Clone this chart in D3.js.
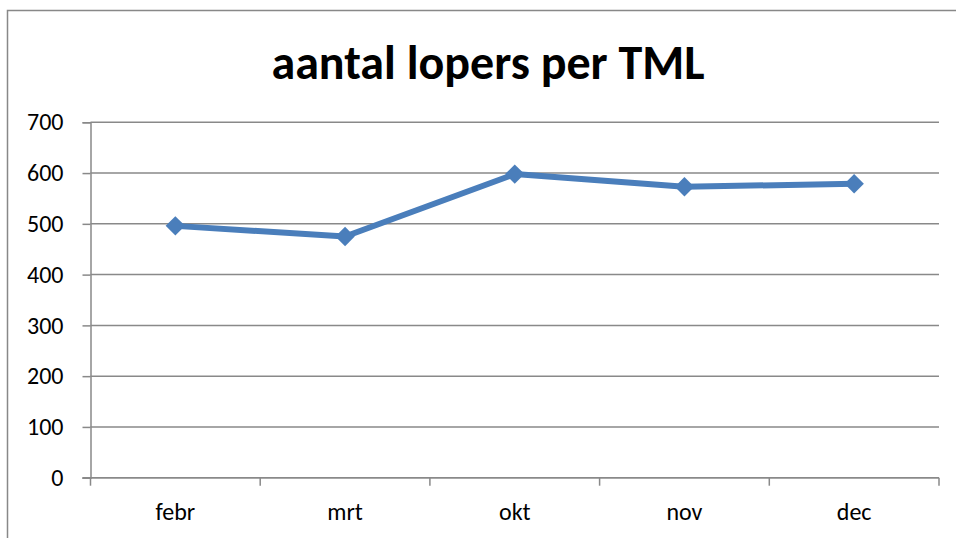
<!DOCTYPE html>
<html><head><meta charset="utf-8">
<script src="https://cdn.jsdelivr.net/npm/d3@7"></script>
<style>body{margin:0;background:#fff}svg{display:block}text{font-family:Carlito,"Liberation Sans Narrow","Open Sans",sans-serif}</style>
</head><body>
<svg id="c" width="956" height="538"></svg>
<script>
const categories = ["febr","mrt","okt","nov","dec"];
const values = [496, 475, 598, 573, 579];
const yTicks = [0,100,200,300,400,500,600,700];
const title = "aantal lopers per TML";

const FONT = 'Carlito,"Liberation Sans Narrow","Open Sans",sans-serif';
const svg = d3.select("#c");
svg.append("rect").attr("x",7.5).attr("y",10.5).attr("width",960).attr("height",540)
  .attr("fill","#fff").attr("stroke","#888").attr("stroke-width",1.5);

const L=90.5, R=939, T=122.3, B=477.7;
const x = d3.scaleBand().domain(categories).range([L,R]);
const y = d3.scaleLinear().domain([0,700]).range([B,T]);

// gridlines
svg.append("g").selectAll("line").data(yTicks).join("line")
  .attr("x1",L).attr("x2",R).attr("y1",d=>y(d)).attr("y2",d=>y(d))
  .attr("stroke","#898989").attr("stroke-width",1.5);

// y axis
const ya = svg.append("g").attr("transform",`translate(${L},0)`)
  .call(d3.axisLeft(y).tickValues(yTicks).tickSize(8).tickPadding(19));
ya.attr("font-size",null).attr("font-family",null);
ya.select(".domain").attr("stroke","#898989").attr("stroke-width",1.5);
ya.selectAll(".tick line").attr("stroke","#898989").attr("stroke-width",1.5);
ya.selectAll("text").style("font-size","24px").attr("fill","#000").style("font-family",FONT);

// x axis
const xa = svg.append("g").attr("transform",`translate(0,${B})`)
  .call(d3.axisBottom(x).tickSize(0).tickPadding(25));
xa.attr("font-size",null).attr("font-family",null);
xa.select(".domain").remove();
xa.selectAll("text").style("font-size","24px").attr("fill","#000").style("font-family",FONT);
const bounds = categories.map(c=>x(c)).concat([R]);
svg.append("g").selectAll("line").data(bounds).join("line")
  .attr("x1",d=>d).attr("x2",d=>d).attr("y1",B).attr("y2",B+8)
  .attr("stroke","#898989").attr("stroke-width",1.5);
svg.append("line").attr("x1",L-8).attr("x2",R).attr("y1",B).attr("y2",B)
  .attr("stroke","#898989").attr("stroke-width",1.5);

// line
const cx = c => x(c)+x.bandwidth()/2;
const line = d3.line().x((d,i)=>cx(categories[i])).y(d=>y(d));
svg.append("path").datum(values).attr("d",line).attr("fill","none")
  .attr("stroke","#4A7EBB").attr("stroke-width",6).attr("stroke-linejoin","round");
svg.append("g").selectAll("path").data(values).join("path")
  .attr("d",d3.symbol(d3.symbolDiamond2,240)())
  .attr("transform",(d,i)=>`translate(${cx(categories[i])},${y(d)})`)
  .attr("fill","#4A7EBB");

// title
svg.append("text").attr("x",488).attr("y",79).attr("text-anchor","middle")
  .style("font-size","48px").attr("font-weight","bold").attr("fill","#000").text(title);
</script>
</body></html>
